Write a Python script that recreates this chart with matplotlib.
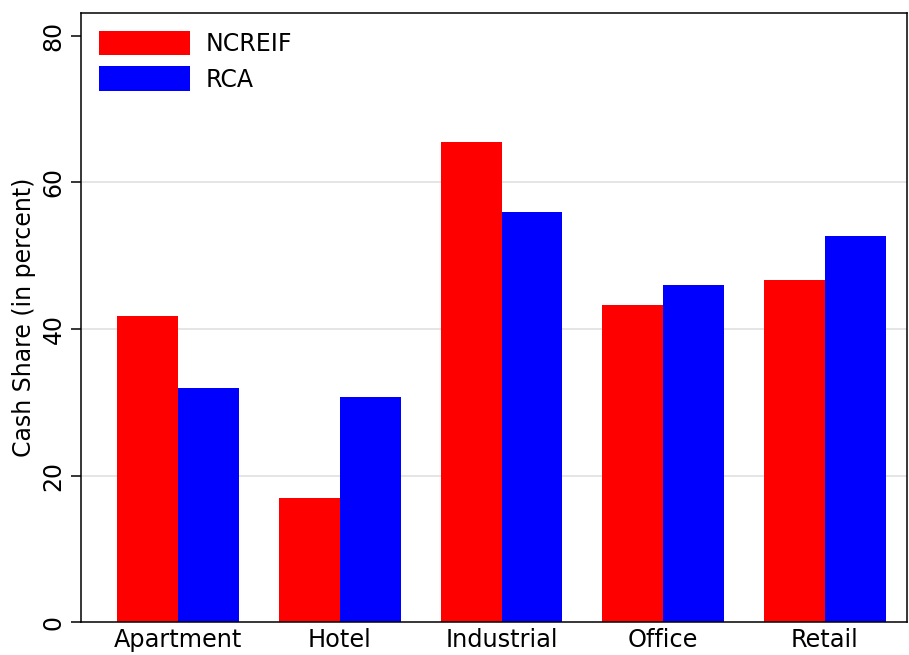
## cash share by property type, NCREIF vs RCA
import numpy as np
import matplotlib
matplotlib.use("Agg")
import matplotlib.pyplot as plt

categories = ["Apartment", "Hotel", "Industrial", "Office", "Retail"]
ncreif = [41.8, 17.0, 65.5, 43.3, 46.7]
rca = [31.9, 30.7, 56.0, 46.0, 52.7]
yticks = [0, 20, 40, 60, 80]

x = np.arange(len(categories))
w = 0.377

fig = plt.figure(figsize=(9.09, 6.55), dpi=100)
ax = fig.add_axes([0.0891, 0.0499, 0.9087, 0.9302])

# light grid lines at 20, 40, 60
for g in yticks[1:-1]:
    ax.axhline(g, color="#dedede", lw=1.1, zorder=0)

ax.bar(x - w / 2, ncreif, width=w, color="#ff0000", label="NCREIF", zorder=2)
ax.bar(x + w / 2, rca, width=w, color="#0000ff", label="RCA", zorder=2)

ax.set_xlim(-0.6, 4.507)
ax.set_ylim(0, 83.1)
ax.set_xticks(x)
ax.set_xticklabels(categories, fontsize=17.3)
ax.set_yticks(yticks)
ax.set_yticklabels([str(t) for t in yticks], fontsize=17, rotation=90, va="center")
ax.tick_params(axis="x", length=0, pad=4)
ax.tick_params(axis="y", length=7, width=1.1, pad=4)
ax.set_ylabel("Cash Share (in percent)", fontsize=17, labelpad=4)

for s in ax.spines.values():
    s.set_linewidth(1.1)
    s.set_color("black")

ax.legend(loc="upper left", frameon=False, fontsize=17, handlelength=3.85,
          handleheight=1.2, handletextpad=0.65, labelspacing=0.45,
          borderaxespad=0.3, bbox_to_anchor=(0.002, 0.998))

fig.savefig("out.png", dpi=100)
